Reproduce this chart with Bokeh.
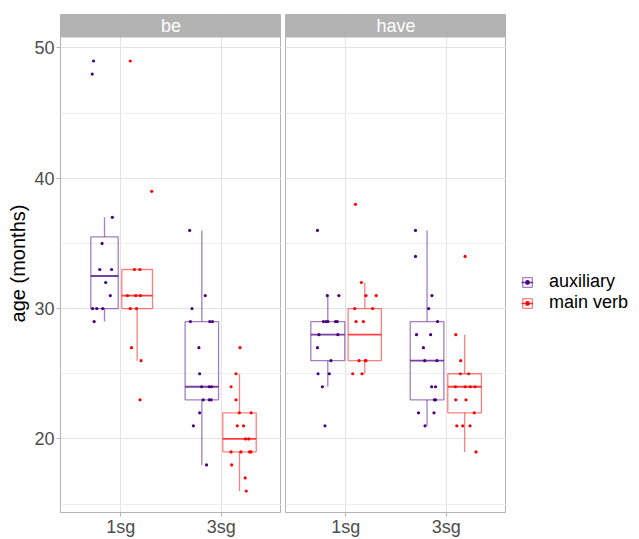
from bokeh.plotting import figure
from bokeh.layouts import row
from bokeh.models import (Range1d, FixedTicker, ColumnDataSource, Legend,
                          LegendItem, Grid)
from bokeh.core.properties import value
from bokeh.embed import file_html
from bokeh.resources import INLINE

# ---------------- data ----------------
verbs = ["be", "have"]
persons = ["1sg", "3sg"]
functions = ["auxiliary", "main verb"]
y_ticks = [20, 30, 40, 50]
y_minor = [15, 25, 35, 45]

# ages (months) of individual points and their horizontal jitter (category units)
be_1sg_aux = [49, 48, 37, 35, 33, 33, 32, 31, 30, 30, 30, 29]
be_1sg_aux_jit = [-0.271, -0.284, -0.084, -0.186, -0.209, -0.091, -0.150, -0.104, -0.281, -0.239, -0.180, -0.265]
be_1sg_main = [49, 39, 33, 33, 31, 31, 31, 30, 30, 27, 26, 23]
be_1sg_main_jit = [0.094, 0.308, 0.136, 0.190, 0.067, 0.150, 0.195, 0.094, 0.156, 0.107, 0.202, 0.192]
be_3sg_aux = [36, 31, 30, 29, 29, 29, 27, 25, 24, 24, 24, 23, 23, 23, 22, 21, 18]
be_3sg_aux_jit = [-0.314, -0.159, -0.291, -0.307, -0.114, -0.087, -0.222, -0.215, -0.195, -0.119, -0.097, -0.179, -0.119, -0.100, -0.215, -0.277, -0.146]
be_3sg_main = [27, 25, 24, 23, 22, 22, 21, 21, 20, 20, 19, 19, 19, 19, 18, 17, 16]
be_3sg_main_jit = [0.187, 0.147, 0.098, 0.147, 0.180, 0.298, 0.160, 0.222, 0.242, 0.275, 0.098, 0.196, 0.282, 0.296, 0.104, 0.239, 0.249]
have_1sg_aux = [36, 31, 31, 29, 29, 29, 29, 29, 28, 28, 27, 26, 25, 25, 24, 21]
have_1sg_aux_jit = [-0.282, -0.184, -0.069, -0.223, -0.197, -0.178, -0.102, -0.085, -0.267, -0.079, -0.282, -0.148, -0.276, -0.164, -0.233, -0.207]
have_1sg_main = [38, 32, 31, 31, 30, 30, 29, 29, 26, 26, 26, 25, 25]
have_1sg_main_jit = [0.096, 0.155, 0.201, 0.303, 0.089, 0.267, 0.103, 0.175, 0.132, 0.194, 0.201, 0.069, 0.162]
have_3sg_aux = [36, 34, 31, 30, 29, 28, 28, 27, 26, 26, 24, 24, 23, 23, 22, 22, 21]
have_3sg_aux_jit = [-0.306, -0.306, -0.142, -0.175, -0.086, -0.296, -0.155, -0.227, -0.214, -0.093, -0.145, -0.106, -0.118, -0.106, -0.276, -0.122, -0.211]
have_3sg_main = [34, 28, 26, 25, 25, 24, 24, 24, 24, 23, 23, 22, 21, 21, 21, 19]
have_3sg_main_jit = [0.188, 0.095, 0.144, 0.141, 0.223, 0.092, 0.188, 0.240, 0.287, 0.095, 0.197, 0.279, 0.105, 0.164, 0.237, 0.296]

points = [
    (be_1sg_aux, be_1sg_aux_jit), (be_1sg_main, be_1sg_main_jit),
    (be_3sg_aux, be_3sg_aux_jit), (be_3sg_main, be_3sg_main_jit),
    (have_1sg_aux, have_1sg_aux_jit), (have_1sg_main, have_1sg_main_jit),
    (have_3sg_aux, have_3sg_aux_jit), (have_3sg_main, have_3sg_main_jit),
]

# box statistics in order verb -> person -> function
box_lo = [29, 26, 18, 16, 24, 25, 21, 19]
box_q1 = [30, 30, 23, 19, 26, 26, 23, 22]
box_med = [32.5, 31, 24, 20, 28, 28, 26, 24]
box_q3 = [35.5, 33, 29, 22, 29, 30, 29, 25]
box_hi = [37, 33, 36, 25, 31, 32, 36, 28]
box_dx = [-0.162, 0.163, -0.193, 0.182, -0.179, 0.189, -0.191, 0.183]
box_w = [0.273, 0.306, 0.333, 0.333, 0.338, 0.331, 0.335, 0.335]

# ---------------- style ----------------
FONT = "Liberation Sans"
COLORS = {"auxiliary": "#4B0082", "main verb": "#FF0000"}
BORDER = "#B3B3B3"
GRID = "#E3E3E3"
TICK_COLOR = "#4D4D4D"
FRAME_W = 221
FRAME_H = 498
TOP = 14
STRIP_PX = 23
GAP_PX = 2
Y0, Y1 = 14.35, 50.65
px_per_unit = (FRAME_H - STRIP_PX - GAP_PX) / (Y1 - Y0)
Y_TOP = Y1 + (STRIP_PX + GAP_PX) / px_per_unit
STRIP_BOTTOM = Y1 + GAP_PX / px_per_unit


def style_box(col):
    return dict(line_color=col, line_alpha=0.5, line_width=1.3)


def make_panel(vi, first):
    p = figure(frame_width=FRAME_W, frame_height=FRAME_H,
               x_range=Range1d(0.4, 2.6), y_range=Range1d(Y0, Y_TOP),
               output_backend="svg", toolbar_location=None,
               y_axis_location="left" if first else None,
               min_border_top=TOP, min_border_bottom=0,
               min_border_left=60 if first else 4, min_border_right=0)
    p.background_fill_color = "white"
    p.border_fill_color = "white"
    p.outline_line_color = BORDER
    p.outline_line_width = 1
    p.xgrid.visible = False
    p.ygrid.visible = False
    p.add_layout(Grid(dimension=0, ticker=FixedTicker(ticks=[1, 2]),
                      grid_line_color=GRID, grid_line_width=1))
    p.add_layout(Grid(dimension=1, ticker=FixedTicker(ticks=y_ticks, minor_ticks=y_minor),
                      grid_line_color=GRID, grid_line_width=1,
                      minor_grid_line_color="#EFEFEF", minor_grid_line_width=1))

    xa = p.xaxis[0]
    xa.ticker = FixedTicker(ticks=[1, 2])
    xa.major_label_overrides = {1: persons[0], 2: persons[1]}
    xa.axis_line_color = None
    xa.major_tick_line_color = BORDER
    xa.major_tick_in = 0
    xa.major_tick_out = 4
    xa.minor_tick_line_color = None
    xa.major_label_text_font = FONT
    xa.major_label_text_font_size = "18px"
    xa.major_label_text_color = TICK_COLOR
    xa.major_label_standoff = 0
    if first:
        ya = p.yaxis[0]
        ya.ticker = FixedTicker(ticks=y_ticks)
        ya.axis_line_color = None
        ya.major_tick_line_color = BORDER
        ya.major_tick_in = 0
        ya.major_tick_out = 4
        ya.minor_tick_line_color = None
        ya.major_label_text_font = FONT
        ya.major_label_text_font_size = "18px"
        ya.major_label_text_color = TICK_COLOR
        ya.major_label_standoff = 2
        ya.axis_label = "age (months)"
        ya.axis_label_text_font = FONT
        ya.axis_label_text_font_size = "20px"
        ya.axis_label_text_font_style = "normal"
        ya.axis_label_text_color = "black"
        ya.axis_label_standoff = 2

    # facet strip
    p.quad(left=[0.4], right=[2.6], bottom=[STRIP_BOTTOM], top=[Y_TOP],
           fill_color=BORDER, line_color=None)
    p.text(x=[1.5], y=[(STRIP_BOTTOM + Y_TOP) / 2], text=[verbs[vi]],
           text_font=value(FONT), text_font_size="18px", text_color="white",
           text_align="center", text_baseline="middle")

    for pi in range(2):
        for fi, fn in enumerate(functions):
            k = vi * 4 + pi * 2 + fi
            cx = pi + 1 + box_dx[k]
            hw = box_w[k] / 2
            col = COLORS[fn]
            p.quad(left=[cx - hw], right=[cx + hw], bottom=[box_q1[k]], top=[box_q3[k]],
                   fill_alpha=0, **style_box(col))
            p.segment(x0=[cx, cx], x1=[cx, cx], y0=[box_q3[k], box_q1[k]],
                      y1=[box_hi[k], box_lo[k]], **style_box(col))
            p.segment(x0=[cx - hw], x1=[cx + hw], y0=[box_med[k]], y1=[box_med[k]],
                      line_color=col, line_alpha=0.75, line_width=1.8)
    for pi in range(2):
        for fi, fn in enumerate(functions):
            k = vi * 4 + pi * 2 + fi
            ages, jit = points[k]
            src = ColumnDataSource(dict(x=[pi + 1 + j for j in jit], y=ages))
            p.scatter("x", "y", source=src, size=3.2, fill_color=COLORS[fn],
                      line_color=None)
    return p


p1 = make_panel(0, True)
p2 = make_panel(1, False)

# legend panel (its key renderers hold one point outside the visible range)
p3 = figure(frame_width=126, frame_height=FRAME_H, x_range=Range1d(0, 1),
            y_range=Range1d(0, 1), output_backend="svg", toolbar_location=None,
            x_axis_location=None, y_axis_location=None,
            min_border_top=TOP, min_border_bottom=0, min_border_left=0,
            min_border_right=0)
p3.outline_line_color = None
p3.xgrid.visible = False
p3.ygrid.visible = False
p3.background_fill_color = "white"
p3.border_fill_color = "white"
items = []
for fn in functions:
    col = COLORS[fn]
    hidden = ColumnDataSource(dict(x=[-5], y=[-5], l=[-6], r=[-5], b=[-6], t=[-5]))
    q = p3.quad(left="l", right="r", bottom="b", top="t", source=hidden,
                fill_alpha=0, **style_box(col))
    s = p3.segment(x0="x", x1="x", y0="y", y1="y", source=hidden,
                   line_color=col, line_alpha=0.75, line_width=1.5)
    d = p3.scatter("x", "y", source=hidden, size=3.2, fill_color=col, line_color=None)
    items.append(LegendItem(label=fn, renderers=[q, s, d]))

legend = Legend(items=items, location=(15, 199), orientation="vertical",
                border_line_color=None, background_fill_alpha=0,
                label_text_font=FONT, label_text_font_size="18px",
                label_text_color="black", glyph_width=12, glyph_height=12,
                label_standoff=16, spacing=-4, padding=0, margin=0,
                label_height=16)
p3.add_layout(legend, "center")

layout = row(p1, p2, p3)
open("out.html", "w").write(file_html(layout, INLINE))
